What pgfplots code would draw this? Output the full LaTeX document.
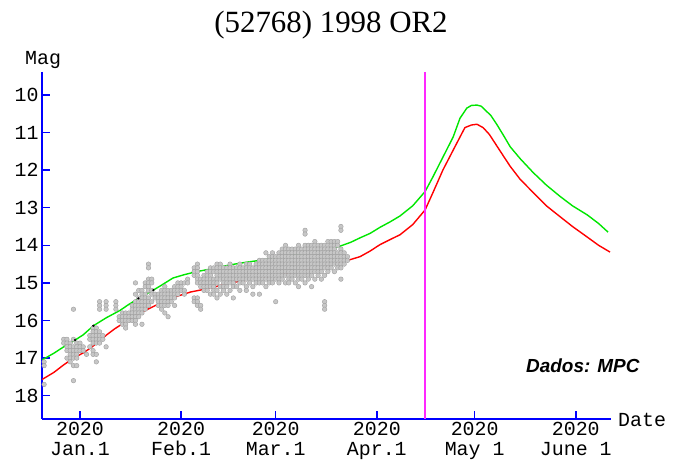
\documentclass[border=0pt]{standalone}
\usepackage{fontspec}
\setmainfont{Liberation Serif}
\newfontfamily\mono{Liberation Mono}
\newfontfamily\arial{Liberation Sans}
\usepackage{pgfplots}
\pgfplotsset{compat=1.18}

\begin{document}
\begin{tikzpicture}
\useasboundingbox (0,0) rectangle (675bp,464bp);
\begin{axis}[
  at={(42bp,45bp)}, anchor=south west,
  scale only axis, width=569bp, height=347bp,
  xmin=-11.65, xmax=162.8,
  ymin=9.39, ymax=18.62, y dir=reverse,
  axis x line=bottom, axis y line=left,
  axis line style={blue, line width=1.5bp, -},
  xtick={0,31,60,91,121,152},
  xticklabels={{2020\\Jan.1},{2020\\Feb.1},{2020\\Mar.1},{2020\\Apr.1},{2020\\May 1},{2020\\June 1}},
  ytick={10,11,...,18},
  tick align=inside, major tick length=8bp,
  tick style={blue, line width=1.5bp},
  ticklabel style={font=\mono\fontsize{20}{20}\selectfont},
  xticklabel style={align=center},
  /pgf/number format/assume math mode=true,
]
% observations (gray)
\addplot[only marks, mark=*, mark size=2.3bp,
  mark options={fill=black!22, draw=black!38, line width=0.4bp}] coordinates {
(-11,17.1)(-11,17.2)(-11,17.7)
(-5,16.5)(-5,16.6)
(-4,16.5)(-4,16.6)(-4,16.7)(-4,16.8)(-4,17.0)
(-3,16.6)(-3,16.7)(-3,16.8)(-3,16.9)(-3,17.0)(-3,17.1)
(-2,15.7)(-2,16.5)(-2,16.7)(-2,16.8)(-2,16.9)(-2,17.0)(-2,17.2)(-2,17.6)
(-1,16.6)(-1,16.7)(-1,16.8)(-1,16.9)(-1,17.0)(-1,17.2)
(0,16.6)(0,16.7)(0,16.8)
(1,16.7)(1,16.8)
(2,16.9)
(3,16.4)(3,16.5)(3,16.7)
(4,16.2)(4,16.3)(4,16.4)(4,16.5)(4,16.6)(4,16.8)(4,16.9)
(5,16.2)(5,16.3)(5,16.4)(5,16.5)(5,16.6)(5,16.9)(5,17.1)
(6,15.5)(6,15.6)(6,15.7)(6,16.3)(6,16.4)(6,16.5)(6,16.6)
(7,16.4)(7,16.5)
(8,15.5)(8,15.6)(8,15.7)(8,16.7)
(11,15.5)(11,15.6)(11,15.7)
(12,15.9)(12,16.0)
(13,15.8)(13,15.9)(13,16.0)(13,16.1)
(14,15.8)(14,15.9)(14,16.0)(14,16.1)(14,16.2)
(15,15.8)(15,15.9)(15,16.0)
(16,15.6)(16,15.7)(16,15.8)(16,15.9)(16,16.0)
(17,15.0)(17,15.3)(17,15.5)(17,15.6)(17,15.7)(17,15.8)(17,15.9)(17,16.0)(17,16.1)
(18,15.2)(18,15.4)(18,15.5)(18,15.6)(18,15.7)(18,15.8)(18,15.9)
(19,15.2)(19,15.3)(19,15.4)(19,15.5)(19,15.6)(19,15.7)(19,15.8)(19,16.1)
(20,15.0)(20,15.1)(20,15.3)(20,15.4)(20,15.5)(20,15.6)(20,15.7)
(21,14.5)(21,14.6)(21,14.9)(21,15.0)(21,15.1)(21,15.2)(21,15.4)(21,15.5)(21,15.6)
(22,14.9)(22,15.0)(22,15.2)(22,15.3)(22,15.5)
(23,15.3)(23,15.4)
(24,15.3)(24,15.4)(24,15.5)(24,15.6)
(25,15.2)(25,15.3)(25,15.4)(25,15.5)(25,15.6)(25,15.7)
(26,15.1)(26,15.2)(26,15.3)(26,15.4)(26,15.5)(26,15.6)(26,15.8)
(27,15.2)(27,15.3)(27,15.4)(27,15.5)(27,15.6)(27,15.9)
(28,15.2)(28,15.3)(28,15.4)(28,15.5)
(29,15.1)(29,15.2)(29,15.3)(29,15.4)(29,15.6)
(30,15.0)(30,15.1)(30,15.2)(30,15.3)
(31,15.0)(31,15.1)(31,15.2)
(32,15.0)(32,15.2)(32,15.3)
(33,14.9)(33,15.0)
(35,14.6)(35,14.7)(35,14.8)(35,15.4)(35,15.5)
(36,14.5)(36,14.6)(36,14.7)(36,14.8)(36,14.9)(36,15.0)(36,15.4)(36,15.5)(36,15.6)
(37,14.9)(37,15.0)(37,15.1)(37,15.6)(37,15.7)
(38,14.8)(38,14.9)(38,15.0)(38,15.1)(38,15.2)
(39,14.7)(39,14.8)(39,14.9)(39,15.0)(39,15.1)(39,15.2)
(40,14.6)(40,14.7)(40,14.8)(40,14.9)(40,15.0)(40,15.1)(40,15.3)
(41,14.6)(41,14.7)(41,14.9)(41,15.0)(41,15.1)(41,15.2)(41,15.3)
(42,14.5)(42,14.6)(42,14.7)(42,14.8)(42,14.9)(42,15.0)(42,15.2)(42,15.4)
(43,14.5)(43,14.6)(43,14.7)(43,14.8)(43,14.9)(43,15.1)(43,15.3)
(44,14.6)(44,14.7)(44,14.8)(44,14.9)(44,15.0)(44,15.1)(44,15.2)
(45,14.6)(45,14.7)(45,14.8)(45,14.9)(45,15.0)(45,15.1)(45,15.3)
(46,14.5)(46,14.6)(46,14.7)(46,14.8)(46,14.9)(46,15.0)(46,15.2)
(47,14.6)(47,14.7)(47,14.8)(47,14.9)(47,15.0)(47,15.1)(47,15.4)
(48,14.6)(48,14.7)(48,14.8)(48,14.9)(48,15.1)
(49,14.5)(49,14.6)(49,14.7)(49,14.8)(49,14.9)(49,15.0)(49,15.2)
(50,14.6)(50,14.7)(50,14.8)(50,14.9)(50,15.0)
(51,14.5)(51,14.6)(51,14.7)(51,14.8)(51,14.9)(51,15.1)(51,15.2)
(52,14.5)(52,14.6)(52,14.7)(52,14.8)(52,14.9)(52,15.0)
(53,14.6)(53,14.7)(53,14.8)(53,14.9)(53,15.1)(53,15.3)
(54,14.5)(54,14.6)(54,14.7)(54,14.8)(54,14.9)(54,15.0)
(55,14.4)(55,14.5)(55,14.6)(55,14.7)(55,14.8)(55,14.9)(55,15.0)(55,15.3)
(56,14.4)(56,14.5)(56,14.6)(56,14.7)(56,14.8)(56,14.9)(56,15.0)
(57,14.2)(57,14.4)(57,14.5)(57,14.6)(57,14.7)(57,14.8)(57,14.9)(57,15.1)
(58,14.3)(58,14.4)(58,14.5)(58,14.6)(58,14.7)(58,14.8)(58,14.9)(58,15.0)
(59,14.2)(59,14.3)(59,14.4)(59,14.5)(59,14.6)(59,14.7)(59,14.8)(59,14.9)(59,15.0)
(60,14.3)(60,14.4)(60,14.5)(60,14.6)(60,14.7)(60,14.8)(60,14.9)(60,15.5)
(61,14.2)(61,14.3)(61,14.4)(61,14.5)(61,14.6)(61,14.7)(61,14.8)(61,14.9)(61,15.0)
(62,14.1)(62,14.2)(62,14.3)(62,14.4)(62,14.5)(62,14.6)(62,14.7)(62,14.8)(62,14.9)
(63,14.0)(63,14.1)(63,14.2)(63,14.3)(63,14.4)(63,14.5)(63,14.6)(63,14.7)(63,14.8)(63,15.0)
(64,14.1)(64,14.2)(64,14.3)(64,14.4)(64,14.5)(64,14.6)(64,14.7)(64,14.8)(64,14.9)(64,15.0)
(65,14.1)(65,14.2)(65,14.3)(65,14.4)(65,14.5)(65,14.6)(65,14.7)(65,14.8)(65,14.9)
(66,14.1)(66,14.2)(66,14.3)(66,14.4)(66,14.5)(66,14.6)(66,14.7)(66,14.8)(66,15.0)
(67,14.0)(67,14.1)(67,14.2)(67,14.3)(67,14.4)(67,14.5)(67,14.6)(67,14.7)(67,14.8)(67,14.9)(67,15.1)
(68,14.1)(68,14.2)(68,14.3)(68,14.4)(68,14.5)(68,14.6)(68,14.7)(68,14.8)(68,14.9)
(69,13.6)(69,13.7)(69,14.0)(69,14.1)(69,14.2)(69,14.3)(69,14.4)(69,14.5)(69,14.6)(69,14.7)(69,14.8)(69,15.0)
(70,14.0)(70,14.1)(70,14.2)(70,14.3)(70,14.4)(70,14.5)(70,14.6)(70,14.7)(70,14.8)(70,14.9)
(71,14.0)(71,14.1)(71,14.2)(71,14.3)(71,14.4)(71,14.5)(71,14.6)(71,14.7)(71,14.8)(71,15.1)
(72,13.9)(72,14.0)(72,14.1)(72,14.2)(72,14.3)(72,14.4)(72,14.5)(72,14.6)(72,14.7)(72,14.9)
(73,14.0)(73,14.1)(73,14.2)(73,14.3)(73,14.4)(73,14.5)(73,14.6)(73,14.7)(73,14.8)
(74,14.0)(74,14.1)(74,14.2)(74,14.3)(74,14.4)(74,14.5)(74,14.6)(74,14.7)(74,14.9)
(75,14.0)(75,14.1)(75,14.2)(75,14.3)(75,14.4)(75,14.5)(75,14.6)(75,14.8)(75,15.5)(75,15.6)(75,15.7)
(76,13.9)(76,14.0)(76,14.1)(76,14.2)(76,14.3)(76,14.4)(76,14.5)(76,14.6)(76,14.7)
(77,13.9)(77,14.0)(77,14.1)(77,14.2)(77,14.3)(77,14.4)(77,14.5)(77,14.6)
(78,13.9)(78,14.0)(78,14.1)(78,14.2)(78,14.3)(78,14.4)(78,14.5)(78,14.7)
(79,13.9)(79,14.0)(79,14.2)(79,14.3)(79,14.4)(79,14.5)(79,14.6)
(80,13.5)(80,13.6)(80,14.1)(80,14.2)(80,14.3)(80,14.4)(80,14.5)(80,14.6)(80,14.9)
(81,14.2)(81,14.3)(81,14.4)(81,14.5)
(82,14.3)(82,14.4)
};
% green curve
\addplot[color={rgb,255:red,0;green,230;blue,0}, line width=1.4bp] coordinates {
(-11.65,17.05)(-8,16.87)(-5,16.7)(-1.5,16.52)(1,16.38)(4.1,16.14)(8,15.93)
(12.3,15.73)(15,15.57)(18.4,15.39)(22.5,15.19)(25,15.06)(28.5,14.87)(32,14.78)
(35.8,14.7)(40,14.63)(46,14.52)(51,14.45)(56,14.39)(63.5,14.28)(71.5,14.18)
(76,14.1)(79.8,14.02)(83,13.92)(85.9,13.8)(89,13.68)(92,13.52)(95,13.38)
(98.1,13.22)(102,12.95)(105.8,12.57)(108.2,12.18)(111.3,11.65)(114.4,11.12)
(116.5,10.62)(118.6,10.35)(120,10.28)(121.7,10.27)(123,10.3)(124.2,10.4)
(126,10.55)(127.9,10.8)(130,11.1)(131.9,11.38)(135,11.7)(139,12.07)(143,12.4)
(147.2,12.7)(151,12.95)(155.5,13.19)(159,13.42)(161.9,13.65)
};
% red curve
\addplot[color={rgb,255:red,255;green,0;blue,0}, line width=1.4bp] coordinates {
(-11.65,17.57)(-8,17.38)(-5,17.18)(-2,17.0)(1,16.86)(3.1,16.74)(5.5,16.58)
(8.2,16.38)(10.5,16.23)(13.3,16.07)(16,15.93)(18.4,15.8)(21.5,15.67)(25.5,15.5)
(29.6,15.36)(34,15.24)(39.9,15.14)(46,15.0)(51,14.93)(56,14.87)(61,14.79)
(66.4,14.7)(71.5,14.61)(76.7,14.52)(81,14.43)(85.9,14.3)(89,14.15)(92,13.98)
(95,13.85)(98.1,13.72)(102,13.45)(105.8,13.06)(108.2,12.6)(111.3,11.99)
(115,11.37)(118,10.87)(120,10.8)(121.7,10.78)(123.6,10.87)(125.5,11.05)
(127.9,11.37)(130,11.65)(131.9,11.9)(135,12.25)(139,12.6)(143,12.95)
(147.2,13.24)(151,13.5)(155.5,13.78)(159,14.0)(162.5,14.18)
};
% small dark marks on the green curve
\addplot[only marks, mark=*, mark size=0.9bp, black] coordinates {
(-1.5,16.52)(4.1,16.14)(17.9,15.41)(22.5,15.19)
};
% current date
\addplot[color={rgb,255:red,255;green,40;blue,255}, line width=1.6bp] coordinates {
(105.8,9.39)(105.8,18.62)
};
\end{axis}
\node[anchor=base, inner sep=0pt, font=\fontsize{31}{31}\selectfont] at (331bp,431bp) {(52768) 1998 OR2};
\node[anchor=base west, inner sep=0pt, font=\mono\fontsize{20}{20}\selectfont] at (25bp,399bp) {Mag};
\node[anchor=base west, inner sep=0pt, font=\mono\fontsize{20}{20}\selectfont] at (618bp,37.3bp) {Date};
\node[anchor=base west, inner sep=0pt, font=\arial\bfseries\itshape\fontsize{19}{19}\selectfont] at (526bp,91.3bp) {Dados: MPC};
\end{tikzpicture}
\end{document}
